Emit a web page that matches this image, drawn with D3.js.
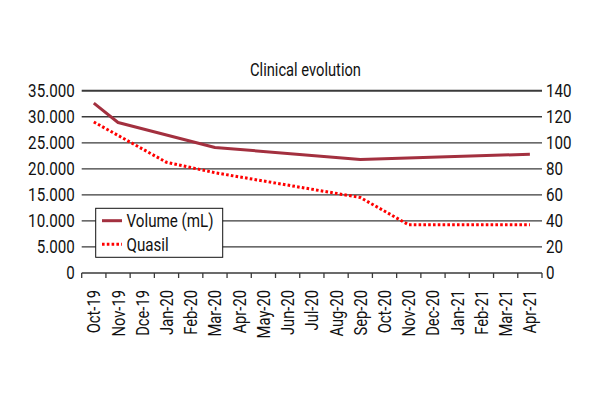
<!DOCTYPE html>
<html>
<head>
<meta charset="utf-8">
<script src="https://cdn.jsdelivr.net/npm/d3@7"></script>
<style>
  html, body { margin: 0; padding: 0; background: #fff; }
  svg { display: block; }
  text { font-family: Roboto, "Liberation Sans", sans-serif; fill: #111; }
</style>
</head>
<body>
<svg id="chart" width="600" height="400"></svg>
<script>
const months = ["Oct-19","Nov-19","Dce-19","Jan-20","Feb-20","Mar-20","Apr-20","May-20","Jun-20","Jul-20","Aug-20","Sep-20","Oct-20","Nov-20","Dec-20","Jan-21","Feb-21","Mar-21","Apr-21"];
const volume = [32600, 28900, null, null, null, 24100, null, null, null, null, null, 21800, null, null, null, null, null, null, 22800];
const quasil = [116, null, null, 85, null, 77, null, null, null, null, null, 58, null, 37, null, null, null, null, 37];
const leftTicks = [0, 5000, 10000, 15000, 20000, 25000, 30000, 35000];
const rightTicks = [0, 20, 40, 60, 80, 100, 120, 140];
const seriesNames = ["Volume (mL)", "Quasil"];
const title = "Clinical evolution";

const SX = 0.82; // horizontal condensing to mimic a condensed face
const svg = d3.select("#chart");
const L = 81.7, R = 542, T = 90.7, B = 273;

const x = d3.scaleBand().domain(months).range([L, R]).paddingInner(0).paddingOuter(0);
const yL = d3.scaleLinear().domain([0, 35000]).range([B, T]);
const yR = d3.scaleLinear().domain([0, 140]).range([B, T]);
const loc = d3.formatLocale({decimal: ",", thousands: ".", grouping: [3], currency: ["", ""]});
const fmt = loc.format(",d");

function condense(sel) {
  sel.each(function() {
    const t = d3.select(this);
    const xv = +(t.attr("x") || 0);
    t.attr("x", xv / SX).attr("transform", `scale(${SX},1)`);
  });
}

// gridlines
svg.append("g").selectAll("line").data(leftTicks.filter(d => d > 0)).join("line")
  .attr("x1", L).attr("x2", R)
  .attr("y1", d => yL(d)).attr("y2", d => yL(d))
  .attr("stroke", "#3a3a3a").attr("stroke-width", d => d === 35000 ? 2 : 1.3);

// left axis labels
const gl = svg.append("g").attr("transform", `translate(${L},0)`)
  .call(d3.axisLeft(yL).tickValues(leftTicks).tickFormat(fmt).tickSize(0).tickPadding(7));
gl.select(".domain").remove();
gl.selectAll("text").attr("font-size", 18.5).style("font-family", null).attr("fill", "#111").call(condense);
gl.attr("font-family", null);

// right axis labels
const gr = svg.append("g").attr("transform", `translate(${R},0)`)
  .call(d3.axisRight(yR).tickValues(rightTicks).tickSize(0).tickPadding(4));
gr.select(".domain").remove();
gr.selectAll("text").attr("font-size", 18.5).attr("fill", "#111").call(condense);
gr.attr("font-family", null);

// bottom axis
const gb = svg.append("g").attr("transform", `translate(0,${B})`);
gb.append("line").attr("x1", L).attr("x2", R).attr("y1", 0).attr("y2", 0)
  .attr("stroke", "#3a3a3a").attr("stroke-width", 1.5);
const boundaries = months.map(m => x(m)).concat([x(months[months.length - 1]) + x.bandwidth()]);
gb.selectAll("line.tick").data(boundaries).join("line").attr("class", "tick")
  .attr("x1", d => d).attr("x2", d => d).attr("y1", 0).attr("y2", 5)
  .attr("stroke", "#3a3a3a").attr("stroke-width", 1.3);
gb.selectAll("text").data(months).join("text")
  .attr("transform", d => `translate(${x(d) + x.bandwidth() / 2 + 6.5},${17}) rotate(-90) scale(${SX},1)`)
  .attr("text-anchor", "end")
  .attr("font-size", 18)
  .text(d => d);

// lines
const cx = d => x(d) + x.bandwidth() / 2;
const volPts = months.map((m, i) => [m, volume[i]]).filter(d => d[1] !== null);
const quaPts = months.map((m, i) => [m, quasil[i]]).filter(d => d[1] !== null);

svg.append("path").datum(quaPts)
  .attr("d", d3.line().x(d => cx(d[0])).y(d => yR(d[1])))
  .attr("fill", "none").attr("stroke", "#ff0000").attr("stroke-width", 3)
  .attr("stroke-dasharray", "2.6,2.2");

svg.append("path").datum(volPts)
  .attr("d", d3.line().x(d => cx(d[0])).y(d => yL(d[1])))
  .attr("fill", "none").attr("stroke", "#a3303f").attr("stroke-width", 3)
  .attr("stroke-linejoin", "round");

// legend
const lg = svg.append("g");
lg.append("rect").attr("x", 95.7).attr("y", 208.3).attr("width", 127).attr("height", 49)
  .attr("fill", "#fff").attr("stroke", "#111").attr("stroke-width", 1);
const legendStyles = [
  {stroke: "#a3303f", dash: null},
  {stroke: "#ff0000", dash: "2.6,2.2"}
];
seriesNames.forEach((n, i) => {
  const yy = 220.7 + i * 23.6;
  lg.append("line").attr("x1", 102).attr("x2", 122).attr("y1", yy).attr("y2", yy)
    .attr("stroke", legendStyles[i].stroke).attr("stroke-width", 3)
    .attr("stroke-dasharray", legendStyles[i].dash);
  lg.append("text").attr("transform", `translate(126.5,${yy}) scale(${SX},1)`).attr("dy", "0.35em")
    .attr("font-size", 18.5).text(n);
});

// title
svg.append("text").attr("transform", `translate(305.5,70) scale(${SX + 0.02},1)`).attr("dy", "0.35em")
  .attr("text-anchor", "middle").attr("font-size", 17.5).text(title);
</script>
</body>
</html>
